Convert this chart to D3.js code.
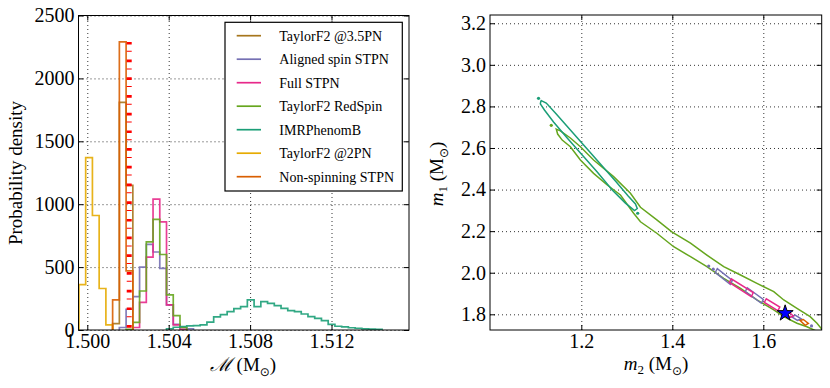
<!DOCTYPE html>
<html>
<head>
<meta charset="utf-8">
<script src="https://cdn.jsdelivr.net/npm/d3@7"></script>
<style>
  body { margin: 0; background: #fff; }
  #visualization text { font-family: "Liberation Serif", "DejaVu Serif", serif; }
</style>
</head>
<body>
<div id="visualization"></div>
<script>
// ---- left panel: chirp mass histograms ----
const binStart = 1.49959;
const binWidth = 0.000331;
const seriesNames = ["TaylorF2 @3.5PN", "Aligned spin STPN", "Full STPN", "TaylorF2 RedSpin",
                     "IMRPhenomB", "TaylorF2 @2PN", "Non-spinning STPN"];
const seriesColors = ["#a6761d", "#7570b3", "#e7298a", "#66a61e", "#1b9e77", "#e6ab02", "#d95f02"];
const seriesFirstBin = [5, 6, 8, 7, 13, 0, 5];
const taylorF2_35PN = [50, 1810, 1150];
const alignedSpin = [20, 165, 265, 500, 680, 620, 490, 200, 45, 20, 10];
const fullSTPN = [20, 220, 580, 1040, 860, 200, 40, 5];
const redSpin = [5, 60, 310, 700, 880, 600, 280, 115, 20];
const imrPhenomB = [10, 22, 28, 32, 35, 40, 62, 105, 122, 146, 170, 186, 239, 186, 226, 212,
                    194, 172, 154, 146, 127, 106, 93, 74, 45, 30, 25, 18, 14, 9, 7, 5];
const taylorF2_2PN = [360, 1370, 910, 330, 40];
const nonSpinning = [240, 2290, 470];
const injectedMc = 1.50206;
const injectedMcTop = 2290;
const mcTicks = [1.500, 1.504, 1.508, 1.512];
const densityTicks = [0, 500, 1000, 1500, 2000, 2500];

// ---- right panel: m2 / m1 contours ----
const m2Ticks = [1.2, 1.4, 1.6];
const m1Ticks = [1.8, 2.0, 2.2, 2.4, 2.6, 2.8, 3.0, 3.2];
const redSpinContour = [
  [1.145, 2.691], [1.154, 2.682], [1.176, 2.648], [1.198, 2.606], [1.227, 2.542], [1.271, 2.462],
  [1.308, 2.382], [1.330, 2.315], [1.366, 2.254], [1.399, 2.197], [1.440, 2.142], [1.476, 2.085],
  [1.513, 2.029], [1.550, 1.989], [1.586, 1.949], [1.623, 1.909], [1.645, 1.869], [1.674, 1.829],
  [1.703, 1.789], [1.718, 1.757], [1.731, 1.722],
  [1.716, 1.720], [1.696, 1.740], [1.674, 1.757], [1.645, 1.789], [1.623, 1.821], [1.586, 1.869],
  [1.550, 1.925], [1.513, 1.973], [1.476, 2.029], [1.440, 2.077], [1.403, 2.125], [1.366, 2.190],
  [1.330, 2.245], [1.315, 2.286], [1.286, 2.374], [1.257, 2.422], [1.227, 2.478], [1.198, 2.542],
  [1.176, 2.606], [1.158, 2.638], [1.148, 2.667]
];
const imrContour = [
  [1.112, 2.828], [1.123, 2.816], [1.145, 2.764], [1.176, 2.687], [1.209, 2.605], [1.242, 2.523],
  [1.275, 2.441], [1.303, 2.369], [1.319, 2.331], [1.323, 2.309], [1.317, 2.299], [1.297, 2.335],
  [1.268, 2.398], [1.235, 2.485], [1.202, 2.566], [1.169, 2.648], [1.139, 2.725], [1.119, 2.783],
  [1.110, 2.812], [1.111, 2.824]
];
const alignedLoops = [
  [[1.4945, 2.0011], [1.4989, 2.0191], [1.5319, 1.9626], [1.5275, 1.9446]],
  [[1.5604, 1.9097], [1.5648, 1.9277], [1.6000, 1.8712], [1.5956, 1.8532]],
  [[1.662, 1.789], [1.670, 1.796], [1.684, 1.777], [1.675, 1.771]]
];
const fullLoops = [
  [[1.5253, 1.9530], [1.5297, 1.9710], [1.5780, 1.9049], [1.5736, 1.8844]],
  [[1.6022, 1.8568], [1.6066, 1.8748], [1.6363, 1.8351], [1.6319, 1.8171]],
  [[1.648, 1.806], [1.655, 1.813], [1.666, 1.792], [1.659, 1.785]]
];
const nonSpinLoops = [
  [[1.681, 1.770], [1.688, 1.775], [1.699, 1.756], [1.692, 1.747]]
];
const imrDots = [[1.106, 2.839], [1.324, 2.286]];
const redSpinDots = [[1.134, 2.709]];
const alignedDots = [[1.480, 2.032], [1.490, 2.017], [1.706, 1.744]];
const injectedMasses = [1.648, 1.805];

const serif = "'Liberation Serif', 'DejaVu Serif', serif";
const tickFont = 20;

class PanelFrame {
  constructor(svg, box, xDomain, yDomain, clipId) {
    this.box = box;
    this.g = svg.append("g").attr("transform", "translate(" + box.left + "," + box.top + ")");
    this.x = d3.scaleLinear().domain(xDomain).range([0, box.width]);
    this.y = d3.scaleLinear().domain(yDomain).range([box.height, 0]);
    this.g.append("clipPath").attr("id", clipId)
      .append("rect").attr("width", box.width).attr("height", box.height);
    this.clipId = clipId;
  }

  drawGrid(xTicks, yTicks) {
    var w = this.box.width, h = this.box.height;
    var gx = this.g.append("g").attr("class", "grid")
      .call(d3.axisBottom(this.x).tickValues(xTicks).tickSize(-h).tickFormat(""))
      .attr("transform", "translate(0," + h + ")");
    var gy = this.g.append("g").attr("class", "grid")
      .call(d3.axisLeft(this.y).tickValues(yTicks).tickSize(-w).tickFormat(""));
    [gx, gy].forEach(function (s) {
      s.select(".domain").remove();
      s.selectAll("line").attr("stroke", "#000").attr("stroke-width", 0.8).attr("stroke-dasharray", "1,3");
    });
  }

  plotArea() {
    return this.g.append("g").attr("clip-path", "url(#" + this.clipId + ")");
  }

  drawAxes(xTicks, yTicks, xFmt, yFmt) {
    var w = this.box.width, h = this.box.height;
    var axes = [
      this.g.append("g").attr("transform", "translate(0," + h + ")")
        .call(d3.axisBottom(this.x).tickValues(xTicks).tickSize(-5).tickPadding(4).tickFormat(d3.format(xFmt))),
      this.g.append("g")
        .call(d3.axisLeft(this.y).tickValues(yTicks).tickSize(-5).tickPadding(4).tickFormat(d3.format(yFmt))),
      this.g.append("g")
        .call(d3.axisTop(this.x).tickValues(xTicks).tickSize(-5).tickFormat("")),
      this.g.append("g").attr("transform", "translate(" + w + ",0)")
        .call(d3.axisRight(this.y).tickValues(yTicks).tickSize(-5).tickFormat(""))
    ];
    axes.forEach(function (a) {
      a.select(".domain").remove();
      a.attr("font-size", tickFont).attr("font-family", serif);
      a.selectAll("text").attr("fill", "#000");
    });
    this.g.append("rect").attr("width", w).attr("height", h)
      .attr("fill", "none").attr("stroke", "#000").attr("stroke-width", 1);
  }
}

function stepPoints(firstBin, values) {
  var pts = [[binStart + firstBin * binWidth, 0]];
  values.forEach(function (v, i) {
    pts.push([binStart + (firstBin + i) * binWidth, v]);
    pts.push([binStart + (firstBin + i + 1) * binWidth, v]);
  });
  pts.push([binStart + (firstBin + values.length) * binWidth, 0]);
  return pts;
}

function massLabel(text, sub) {
  text.append("tspan").attr("font-style", "italic").text("m");
  text.append("tspan").attr("font-size", 13).attr("dy", 4).text(sub);
  text.append("tspan").attr("dy", -4).text(" (M");
  text.append("tspan").attr("font-size", 12).attr("dy", 5).attr("font-family", "'DejaVu Sans', sans-serif").text("⊙");
  text.append("tspan").attr("dy", -5).text(")");
}

const svg = d3.select("#visualization").append("svg")
  .attr("width", 830).attr("height", 388);

// ---------- left panel ----------
const left = new PanelFrame(svg, { left: 78.5, top: 15.5, width: 330.5, height: 314.5 },
                            [1.499568, 1.515808], [0, 2500], "clipLeft");
left.drawGrid(mcTicks, densityTicks);
const histArea = left.plotArea();
const histLine = d3.line()
  .x(function (d) { return left.x(d[0]); })
  .y(function (d) { return left.y(d[1]); });
const histValues = [taylorF2_35PN, alignedSpin, fullSTPN, redSpin, imrPhenomB, taylorF2_2PN, nonSpinning];
histValues.forEach(function (vals, i) {
  histArea.append("path")
    .attr("d", histLine(stepPoints(seriesFirstBin[i], vals)))
    .attr("fill", "none")
    .attr("stroke", seriesColors[i])
    .attr("stroke-width", 1.7)
    .attr("stroke-opacity", 0.9);
});
histArea.append("line")
  .attr("x1", left.x(injectedMc)).attr("x2", left.x(injectedMc))
  .attr("y1", left.y(injectedMcTop)).attr("y2", left.y(0))
  .attr("stroke", "#ff0000").attr("stroke-width", 5)
  .attr("stroke-dasharray", "2.7,6.1,1,7.9");
left.drawAxes(mcTicks, densityTicks, ".3f", "d");

// legend
const legend = left.g.append("g").attr("transform", "translate(" + (225 - 78.5) + "," + (22.3 - 15.5) + ")");
legend.append("rect").attr("width", 177.3).attr("height", 168.7)
  .attr("fill", "#fff").attr("stroke", "#000").attr("stroke-width", 1.2);
const legendRow = legend.selectAll("g.row").data(seriesNames).enter().append("g")
  .attr("class", "row")
  .attr("transform", function (d, i) { return "translate(0," + (13.4 + 23.5 * i) + ")"; });
legendRow.append("line")
  .attr("x1", 11.7).attr("x2", 36)
  .attr("stroke", function (d, i) { return seriesColors[i]; })
  .attr("stroke-width", 1.7);
legendRow.append("text")
  .attr("x", 54.3).attr("dy", "0.35em")
  .attr("font-size", 14)
  .text(function (d) { return d; });

// axis labels, left
svg.append("text")
  .attr("transform", "translate(22,173) rotate(-90)")
  .attr("text-anchor", "middle").attr("font-size", 19)
  .text("Probability density");
const mcLabel = svg.append("text")
  .attr("x", 243).attr("y", 371).attr("text-anchor", "middle").attr("font-size", 19);
mcLabel.append("tspan").attr("font-family", "'DejaVu Serif', serif").attr("font-style", "italic").text("ℳ");
mcLabel.append("tspan").text(" (M");
mcLabel.append("tspan").attr("font-size", 12).attr("dy", 5).attr("font-family", "'DejaVu Sans', sans-serif").text("⊙");
mcLabel.append("tspan").attr("dy", -5).text(")");

// ---------- right panel ----------
const right = new PanelFrame(svg, { left: 490, top: 15, width: 331.7, height: 315 },
                             [0.99934, 1.72835], [1.7245, 3.2397], "clipRight");
right.drawGrid(m2Ticks, m1Ticks);
const contourArea = right.plotArea();
const contourLine = d3.line()
  .x(function (d) { return right.x(d[0]); })
  .y(function (d) { return right.y(d[1]); })
  .curve(d3.curveLinearClosed);

function drawLoops(loops, color) {
  loops.forEach(function (loop) {
    contourArea.append("path")
      .attr("d", contourLine(loop))
      .attr("fill", "none").attr("stroke", color).attr("stroke-width", 1.5);
  });
}
function drawDots(dots, color) {
  contourArea.selectAll(null).data(dots).enter().append("circle")
    .attr("cx", function (d) { return right.x(d[0]); })
    .attr("cy", function (d) { return right.y(d[1]); })
    .attr("r", 1.6).attr("fill", color);
}

drawLoops([redSpinContour], seriesColors[3]);
drawLoops([imrContour], seriesColors[4]);
drawLoops(alignedLoops, seriesColors[1]);
drawLoops(fullLoops, seriesColors[2]);
drawLoops(nonSpinLoops, seriesColors[6]);
drawDots(imrDots, seriesColors[4]);
drawDots(redSpinDots, seriesColors[3]);
drawDots(alignedDots, seriesColors[1]);

contourArea.append("path")
  .attr("d", d3.symbol().type(d3.symbolStar).size(80)())
  .attr("transform", "translate(" + right.x(injectedMasses[0]) + "," + right.y(injectedMasses[1]) + ")")
  .attr("fill", "#0000ff").attr("stroke", "#000").attr("stroke-width", 1);

right.drawAxes(m2Ticks, m1Ticks, ".1f", ".1f");

// axis labels, right
massLabel(svg.append("text")
  .attr("transform", "translate(443,174) rotate(-90)")
  .attr("text-anchor", "middle").attr("font-size", 19), "1");
massLabel(svg.append("text")
  .attr("x", 656).attr("y", 370).attr("text-anchor", "middle").attr("font-size", 19), "2");
</script>
</body>
</html>
